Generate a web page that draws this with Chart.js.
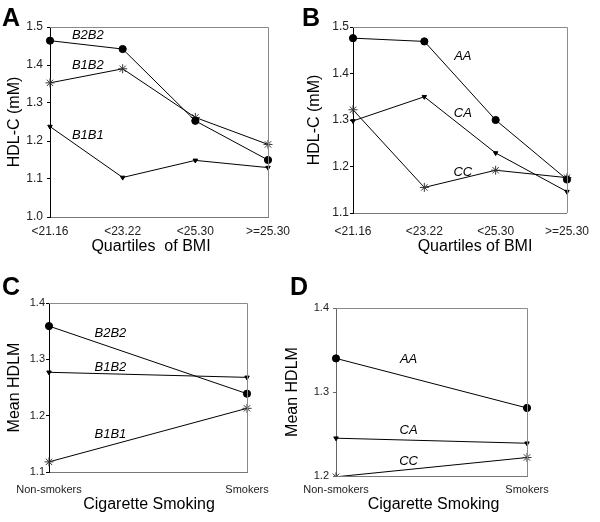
<!DOCTYPE html>
<html>
<head>
<meta charset="utf-8">
<script src="https://cdn.jsdelivr.net/npm/chart.js@4/dist/chart.umd.min.js"></script>
<style>
  body { margin: 0; background: #fff; }
  #wrap { position: relative; width: 600px; height: 522px; font-family: 'Liberation Sans', Arial, sans-serif; }
  #wrap canvas { position: absolute; }
  .letter { position: absolute; font-weight: bold; font-size: 25px; line-height: 25px; color: #000; }
</style>
</head>
<body>
<div id="wrap">
  <canvas id="chartA" width="300" height="260" style="left:0;top:0"></canvas>
  <canvas id="chartB" width="300" height="260" style="left:300px;top:0"></canvas>
  <canvas id="chartC" width="300" height="262" style="left:0;top:260px"></canvas>
  <canvas id="chartD" width="330" height="262" style="left:270px;top:260px"></canvas>
  <div class="letter" style="left:2px;top:5px">A</div>
  <div class="letter" style="left:302px;top:5px">B</div>
  <div class="letter" style="left:2px;top:274px">C</div>
  <div class="letter" style="left:290px;top:274px">D</div>
</div>
<script>
// Categories
const bmiQuartiles = ['<21.16', '<23.22', '<25.30', '>=25.30'];
const smokingGroups = ['Non-smokers', 'Smokers'];

// Panel A - genotype vs BMI quartile (HDL-C, mM)
const aB2B2 = [1.464, 1.442, 1.253, 1.150];
const aB1B2 = [1.353, 1.390, 1.262, 1.191];
const aB1B1 = [1.238, 1.104, 1.149, 1.130];

// Panel B - genotype vs BMI quartile (HDL-C, mM)
const bAA = [1.476, 1.469, 1.300, 1.172];
const bCA = [1.298, 1.350, 1.229, 1.146];
const bCC = [1.322, 1.155, 1.192, 1.176];

// Panel C - smoking (mean HDLM)
const cB2B2 = [1.359, 1.239];
const cB1B2 = [1.277, 1.268];
const cB1B1 = [1.118, 1.213];

// Panel D - smoking (mean HDLM)
const dAA = [1.340, 1.281];
const dCA = [1.245, 1.239];
const dCC = [1.199, 1.222];

Chart.defaults.font.family = "'Liberation Sans', Arial, sans-serif";
Chart.defaults.color = '#222';
Chart.defaults.animation = false;

// grey box round the plot (top + right sides)
const frame = {
  id: 'frame',
  afterDatasetsDraw(chart) {
    const { ctx, chartArea: a } = chart;
    ctx.save();
    ctx.strokeStyle = '#8a8a8a';
    ctx.lineWidth = 1;
    ctx.beginPath();
    ctx.moveTo(a.left, a.top + 0.5);
    ctx.lineTo(a.right + 0.5, a.top + 0.5);
    ctx.lineTo(a.right + 0.5, a.bottom);
    ctx.stroke();
    ctx.restore();
  }
};

// italic series names placed in data units
const seriesLabels = {
  id: 'seriesLabels',
  afterDatasetsDraw(chart, args, opts) {
    const { ctx, scales } = chart;
    ctx.save();
    ctx.font = "italic 13px 'Liberation Sans', Arial, sans-serif";
    ctx.fillStyle = '#000';
    ctx.textAlign = 'center';
    ctx.textBaseline = 'middle';
    (opts.items || []).forEach(it => {
      ctx.fillText(it.text, scales.x.getPixelForValue(it.x), scales.y.getPixelForValue(it.y));
    });
    ctx.restore();
  }
};

// x axis title, allowed to sit a bit off the plot centre like the original
const xTitle = {
  id: 'xTitle',
  afterDraw(chart, args, opts) {
    const { ctx, chartArea: a } = chart;
    ctx.save();
    ctx.font = "16px 'Liberation Sans', Arial, sans-serif";
    ctx.fillStyle = '#000';
    ctx.textAlign = 'center';
    ctx.textBaseline = 'middle';
    ctx.fillText(opts.text, (a.left + a.right) / 2 + opts.shift, chart.height - opts.fromBottom);
    ctx.restore();
  }
};

const marker = {
  circle: { pointStyle: 'circle', pointRadius: 3.6, pointBackgroundColor: '#000', pointBorderColor: '#000' },
  tri: { pointStyle: 'triangle', pointRadius: 2.6, pointRotation: 180, pointBackgroundColor: '#000', pointBorderColor: '#000' },
  star: { pointStyle: 'star', pointRadius: 4.5, pointBorderColor: '#333', pointBackgroundColor: '#333', pointBorderWidth: 1 }
};

const line = (label, data, m) => Object.assign({
  label, data, borderColor: '#000', borderWidth: 1, tension: 0, fill: false
}, marker[m]);

const makePanel = (id, p) => new Chart(document.getElementById(id), {
  type: 'line',
  data: { labels: p.labels, datasets: p.datasets },
  options: {
    responsive: false,
    layout: { padding: p.padding },
    plugins: {
      legend: { display: false },
      tooltip: { enabled: false },
      seriesLabels: { items: p.names },
      xTitle: { text: p.xTitle, shift: p.xTitleShift, fromBottom: p.xTitleBottom }
    },
    scales: {
      x: {
        offset: false,
        grid: { display: false, drawTicks: false },
        border: { color: '#777', width: 1 },
        ticks: { font: { size: p.xTickSize }, padding: p.xTickPad, maxRotation: 0, autoSkip: false },
        afterFit: s => { s.height = p.xHeight; }
      },
      y: {
        min: p.yMin, max: p.yMax,
        grid: { drawOnChartArea: false, drawTicks: true, tickLength: 3, color: p.yAxisColor },
        border: { color: p.yAxisColor, width: 1 },
        ticks: { stepSize: 0.1, font: { size: p.yTickSize }, padding: p.yTickPad, callback: v => v.toFixed(1) },
        title: { display: true, text: p.yTitle, font: { size: 16 }, color: '#000', padding: { top: p.yTitlePad, bottom: 0 } },
        afterFit: s => { s.width = p.yWidth; }
      }
    }
  },
  plugins: [frame, seriesLabels, xTitle]
});

makePanel('chartA', {
  labels: bmiQuartiles,
  datasets: [line('B2B2', aB2B2, 'circle'), line('B1B2', aB1B2, 'star'), line('B1B1', aB1B1, 'tri')],
  names: [{ text: 'B2B2', x: 0.52, y: 1.479 }, { text: 'B1B2', x: 0.52, y: 1.400 }, { text: 'B1B1', x: 0.52, y: 1.216 }],
  padding: { top: 27, right: 32, left: 0, bottom: 0 },
  yMin: 1.0, yMax: 1.5, yWidth: 50, xHeight: 43, yAxisColor: '#000',
  xTickSize: 12, xTickPad: 7, yTickSize: 12, yTickPad: 4,
  xTitle: 'Quartiles  of BMI', xTitleShift: -8, xTitleBottom: 13,
  yTitle: 'HDL-C (mM)', yTitlePad: 5
});

makePanel('chartB', {
  labels: bmiQuartiles,
  datasets: [line('AA', bAA, 'circle'), line('CA', bCA, 'tri'), line('CC', bCC, 'star')],
  names: [{ text: 'AA', x: 1.54, y: 1.436 }, { text: 'CA', x: 1.54, y: 1.315 }, { text: 'CC', x: 1.54, y: 1.187 }],
  padding: { top: 27, right: 24, left: 0, bottom: 0 },
  yMin: 1.1, yMax: 1.5, yWidth: 53, xHeight: 47, yAxisColor: '#000',
  xTickSize: 12, xTickPad: 11, yTickSize: 12, yTickPad: 1,
  xTitle: 'Quartiles of BMI', xTitleShift: 15, xTitleBottom: 13,
  yTitle: 'HDL-C (mM)', yTitlePad: 5
});

makePanel('chartC', {
  labels: smokingGroups,
  datasets: [line('B2B2', cB2B2, 'circle'), line('B1B2', cB1B2, 'tri'), line('B1B1', cB1B1, 'star')],
  names: [{ text: 'B2B2', x: 0.31, y: 1.346 }, { text: 'B1B2', x: 0.31, y: 1.286 }, { text: 'B1B1', x: 0.31, y: 1.167 }],
  padding: { top: 43, right: 53, left: 0, bottom: 0 },
  yMin: 1.1, yMax: 1.4, yWidth: 49, xHeight: 50, yAxisColor: '#000',
  xTickSize: 11, xTickPad: 11, yTickSize: 11, yTickPad: 1,
  xTitle: 'Cigarette Smoking', xTitleShift: 1, xTitleBottom: 17,
  yTitle: 'Mean HDLM', yTitlePad: 5
});

makePanel('chartD', {
  labels: smokingGroups,
  datasets: [line('AA', dAA, 'circle'), line('CA', dCA, 'tri'), line('CC', dCC, 'star')],
  names: [{ text: 'AA', x: 0.38, y: 1.339 }, { text: 'CA', x: 0.38, y: 1.254 }, { text: 'CC', x: 0.38, y: 1.2175 }],
  padding: { top: 48, right: 73, left: 0, bottom: 0 },
  yMin: 1.2, yMax: 1.4, yWidth: 66, xHeight: 46, yAxisColor: '#666',
  xTickSize: 11, xTickPad: 7, yTickSize: 11, yTickPad: 4,
  xTitle: 'Cigarette Smoking', xTitleShift: 2, xTitleBottom: 17,
  yTitle: 'Mean HDLM', yTitlePad: 13
});
</script>
</body>
</html>
